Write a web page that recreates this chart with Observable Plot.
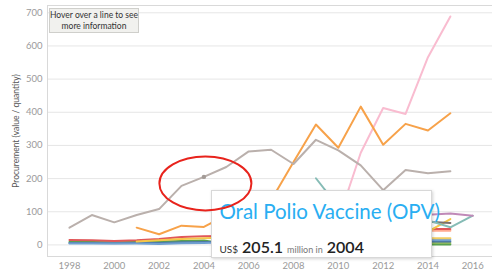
<!DOCTYPE html>
<html>
<head>
<meta charset="utf-8">
<script src="https://cdn.jsdelivr.net/npm/d3@7"></script>
<script src="https://cdn.jsdelivr.net/npm/@observablehq/plot@0.6"></script>
<style>
  html, body { margin: 0; padding: 0; background: #fff; }
  #wrap { position: relative; width: 492px; height: 271px; font-family: Lato, "Open Sans", sans-serif; }
  .hover { position: absolute; box-sizing: border-box; background: #f1f1ee; border: 1px solid #cfcfcb;
           font-size: 8.5px; line-height: 11px; color: #333; text-align: center; padding-top: 1px; }
  .tip { position: absolute; box-sizing: border-box; background: #fff; border: 1px solid #d8d8d8;
         box-shadow: 1px 1px 3px rgba(0,0,0,0.18); }
  .tip .t { position: absolute; left: 7px; top: 8px; font-size: 20.5px; color: #29aef2; white-space: nowrap; letter-spacing: 0px; }
  .tip .v { position: absolute; left: 7px; top: 46px; white-space: nowrap; color: #333; }
</style>
</head>
<body>
<div id="wrap"></div>
<script>
// ---- data ----
const years = [1998,1999,2000,2001,2002,2003,2004,2005,2006,2007,2008,2009,2010,2011,2012,2013,2014,2015,2016];
const xTicks = [1998,2000,2002,2004,2006,2008,2010,2012,2014,2016];
const yTicks = [0,100,200,300,400,500,600,700];

const seriesNames = ["Green","Olive","Dark blue","Blue","Yellow low","Peach","Red","Yellow","Dark grey","Teal","Purple","Pink","Orange","Oral Polio Vaccine (OPV)"];
const seriesColors = ["#59a14f","#8cb85c","#4e79a7","#6f9fd0","#f1ce63","#ffa98f","#e15759","#f5c74a","#79706e","#86bcb6","#c08ab8","#f9bcd0","#f7a24a","#bab0ac"];

const green     = [9,9,8,9,10,12,13,3,3,3,2,2,2,2,2,2,1,1,null];
const olive     = [null,null,null,null,null,null,null,5,5,6,6,6,6,6,6,6,6,6,null];
const darkBlue  = [6,6,5,6,6,8,9,9,9,10,10,10,10,10,10,10,10,10,null];
const blue      = [4,4,4,4,3,5,6,8,9,10,11,12,13,14,14,15,15,15,null];
const yellowLow = [null,null,null,null,null,null,null,12,14,15,16,17,18,18,19,20,20,20,null];
const peach     = [null,null,null,null,null,null,null,null,null,20,25,30,35,38,40,42,43,43,null];
const red       = [15,14,12,14,18,24,26,27,28,30,32,35,38,40,42,45,48,48,null];
const yellow    = [null,null,null,10,14,18,20,22,24,26,28,30,32,34,36,38,40,78,null];
const darkGrey  = [null,null,null,null,null,null,null,null,null,null,40,45,50,55,60,65,70,66,null];
const teal      = [null,null,null,null,null,null,null,null,null,null,null,201,115,90,80,76,74,53,88];
const purple    = [null,null,null,null,null,null,null,null,null,null,null,null,null,null,80,88,91,95,88];
const pink      = [null,null,null,null,null,null,null,null,null,null,null,null,75,278,413,395,566,689,null];
const orange    = [null,null,null,52,32,58,54,90,100,135,250,363,293,417,302,365,345,397,null];
const opv       = [52,90,68,90,108,178,205.1,235,282,287,244,317,285,240,165,226,216,222,null];

const seriesValues = [green, olive, darkBlue, blue, yellowLow, peach, red, yellow, darkGrey, teal, purple, pink, orange, opv];

const tipName = "Oral Polio Vaccine (OPV)";
const tipYear = 2004;
const tipValue = 205.1;

// ---- tidy table ----
const data = [];
seriesNames.forEach((name, i) => {
  seriesValues[i].forEach((v, j) => { if (v != null) data.push({series: name, year: years[j], value: v}); });
});
const highlight = data.filter(d => d.series === tipName && d.year === tipYear);

const plot = Plot.plot({
  width: 492,
  height: 271,
  marginLeft: 47,
  marginRight: 0,
  marginTop: 5,
  marginBottom: 15,
  style: {fontFamily: "Lato, 'Open Sans', sans-serif", fontSize: "9.5px", color: "#9a9a9a", background: "#fff"},
  x: {domain: [1997.02, 2016.88]},
  y: {domain: [-35, 722]},
  color: {domain: seriesNames, range: seriesColors},
  marks: [
    Plot.gridY(yTicks, {stroke: "#e6e6e6", strokeOpacity: 1}),
    Plot.frame({stroke: "#d9d9d9"}),
    Plot.axisX(xTicks, {tickSize: 0, tickPadding: 5.5, tickFormat: d => String(d), label: null, fill: "#9a9a9a", fontSize: 9.5}),
    Plot.axisY(yTicks, {tickSize: 0, tickPadding: 5, label: "Procurement (value / quantity)", labelAnchor: "center", labelOffset: 35, labelArrow: "none", fill: "#9a9a9a", fontSize: 9.5}),
    Plot.line(data, {x: "year", y: "value", z: "series", stroke: "series", strokeWidth: 2, curve: "linear"}),
    Plot.dot(highlight, {x: "year", y: "value", r: 2.2, fill: "#a39b97", stroke: "none"})
  ]
});

const wrap = document.getElementById("wrap");
wrap.appendChild(plot);

// style the y label
plot.querySelectorAll("text").forEach(t => {
  if (t.textContent.startsWith("Procurement")) { t.setAttribute("fill", "#555"); t.style.fontSize = "8.5px"; }
});

const xs = plot.scale("x"), ys = plot.scale("y");

// hover instruction box
const hover = document.createElement("div");
hover.className = "hover";
hover.style.left = "49px"; hover.style.top = "8px"; hover.style.width = "90px"; hover.style.height = "25px";
hover.innerHTML = "Hover over a line to see<br>more information";
wrap.appendChild(hover);

// tooltip box
const px = xs.apply(tipYear), py = ys.apply(tipValue);
const tip = document.createElement("div");
tip.className = "tip";
tip.style.left = (px + 8) + "px"; tip.style.top = (py + 14) + "px";
tip.style.width = "221px"; tip.style.height = "68px";
tip.innerHTML = `<div class="t">${tipName}</div>` +
  `<div class="v"><span style="font-size:10px">US$</span> <span style="font-size:16px;color:#222;font-weight:600">${tipValue.toFixed(1)}</span> ` +
  `<span style="font-size:9px;color:#777">million in</span> <span style="font-size:16px;color:#222;font-weight:600">${tipYear}</span></div>`;
wrap.appendChild(tip);

// red ellipse annotation on top
const ov = d3.select(wrap).append("svg")
  .attr("width", 492).attr("height", 271)
  .style("position", "absolute").style("left", "0px").style("top", "0px").style("pointer-events", "none");
ov.append("ellipse")
  .attr("cx", px + 2).attr("cy", py + 7).attr("rx", 46).attr("ry", 27)
  .attr("fill", "none").attr("stroke", "#e8231c").attr("stroke-width", 2);
</script>
</body>
</html>
